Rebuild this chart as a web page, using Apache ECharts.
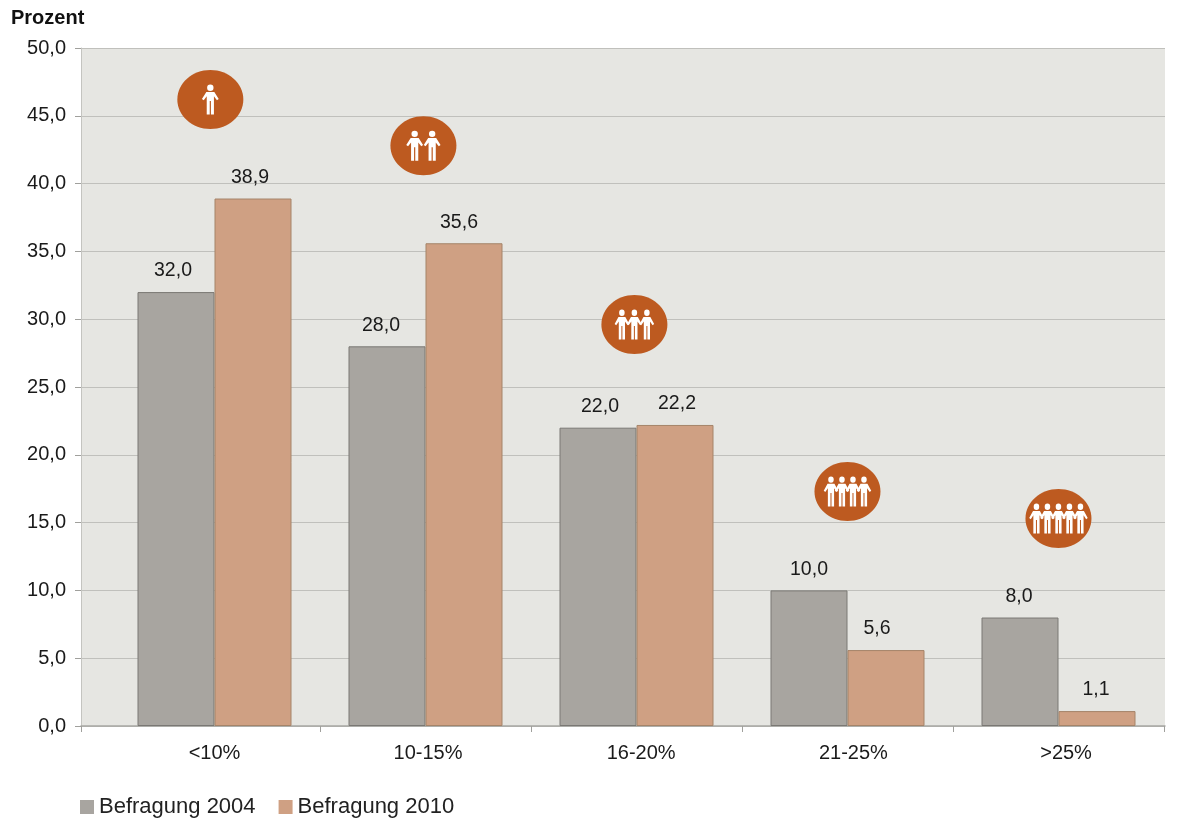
<!DOCTYPE html>
<html><head><meta charset="utf-8">
<style>html,body{margin:0;padding:0;background:#fff}#c{width:1182px;height:820px}</style>
<script src="https://cdn.jsdelivr.net/npm/echarts@6/dist/echarts.min.js"></script>
</head><body><div id="c"></div>
<script>
const categories = ['<10%','10-15%','16-20%','21-25%','>25%'];
const befragung2004 = [32.0,28.0,22.0,10.0,8.0];
const befragung2010 = [38.9,35.6,22.2,5.6,1.1];
const iconX = [-0.02,0.99,1.99,3.0,4.0];
const iconY = [46.2,42.8,29.6,17.3,15.3];
const iconPeople = [1,2,3,4,5];
const tickPositions = [-0.633,0.5,1.5,2.5,3.5,4.5];
const labelPositions = [0.0,1.012,2.022,3.028,4.036];
const labelShift2004 = [-3,-6,2,0,-1];
const labelShift2010 = [-3,-5,2,-9,-1];

const FONT = '"Liberation Sans", Arial, sans-serif';
const fmt = v => v.toFixed(1).replace('.', ',');
const PERSON = 'M0,-15a3.2,3.2 0 1,1 -0.01,0z M-4,-7.6 L4,-7.6 L8.4,-0.6 L6.6,0.6 L3.6,-3.2 L3.6,15 L0.6,15 L0.6,1.5 L-0.6,1.5 L-0.6,15 L-3.6,15 L-3.6,-3.2 L-6.6,0.6 L-8.4,-0.6 Z';

function renderIcon(params, api){
  const c = api.coord([api.value(0), api.value(1)]);
  const n = api.value(2);
  const step = n === 2 ? 17.5 : n === 3 ? 12.5 : 11;
  const w = n >= 3 ? 14.5 : 16.8;
  const kids = [{type:'ellipse',shape:{cx:c[0],cy:c[1],rx:33,ry:29.5},style:{fill:'#bd5a20'}}];
  for(let i=0;i<n;i++){
    kids.push({type:'path',
      shape:{pathData:PERSON,layout:'cover',x:c[0]+(i-(n-1)/2)*step-w/2,y:c[1]-15,width:w,height:30},
      style:{fill:'#ffffff'}});
  }
  return {type:'group',children:kids};
}
function barData(vals, shifts){
  return vals.map((v,i)=>({value:v,label:{offset:[shifts[i],0]}}));
}

const chart = echarts.init(document.getElementById('c'),null,{renderer:'canvas'});
const labelOf = {show:true,position:'top',distance:11,color:'#1a1a1a',fontFamily:FONT,fontSize:19.5,formatter:p=>fmt(p.value)};
chart.setOption({
  animation:false,
  backgroundColor:'#ffffff',
  textStyle:{fontFamily:FONT},
  title:{text:'Prozent',left:6,top:3,textStyle:{fontFamily:FONT,fontSize:20,fontWeight:'bold',color:'#111'}},
  legend:{left:75,top:791,itemWidth:14,itemHeight:14,itemGap:23,icon:'rect',
    data:[{name:'Befragung 2004',itemStyle:{borderWidth:0}},{name:'Befragung 2010',itemStyle:{borderWidth:0}}],
    textStyle:{fontFamily:FONT,fontSize:22,color:'#222',padding:[0,0,0,0]}},
  grid:[
    {left:81,right:17,top:48,height:678,show:true,backgroundColor:'#e6e6e2',borderWidth:0,z:0},
    {left:109,width:1055,top:48,height:678,show:false}
  ],
  xAxis:[
    {gridIndex:0,type:'value',min:-0.633,max:4.505,
      axisLine:{show:true,onZero:false,lineStyle:{color:'#a8a8a4',width:1.5}},
      axisTick:{show:true,length:6,lineStyle:{color:'#a0a09c'},customValues:tickPositions},
      axisLabel:{show:true,customValues:labelPositions,color:'#1a1a1a',fontFamily:FONT,fontSize:20,margin:17,
        hideOverlap:false,showMinLabel:true,showMaxLabel:true,
        formatter:v=>categories[Math.round(v)]},
      splitLine:{show:false}},
    {gridIndex:1,type:'category',data:categories,
      axisLine:{show:false},axisTick:{show:false},axisLabel:{show:false}}
  ],
  yAxis:[
    {gridIndex:0,type:'value',min:0,max:50,interval:5,
      axisLine:{show:true,onZero:false,lineStyle:{color:'#c4c4c0',width:1}},
      axisTick:{show:true,length:6,lineStyle:{color:'#a0a09c'}},
      axisLabel:{color:'#1a1a1a',fontFamily:FONT,fontSize:20,margin:15,formatter:v=>fmt(v)},
      splitLine:{show:true,lineStyle:{color:'#c0c0bc',width:1.2}}},
    {gridIndex:1,type:'value',min:0,max:50,show:false}
  ],
  series:[
    {name:'Befragung 2004',type:'bar',xAxisIndex:1,yAxisIndex:1,data:barData(befragung2004,labelShift2004),barWidth:77,barGap:0,z:3,
      itemStyle:{color:'#a8a5a0',borderColor:'#7a7874',borderWidth:1},label:labelOf},
    {name:'Befragung 2010',type:'bar',xAxisIndex:1,yAxisIndex:1,data:barData(befragung2010,labelShift2010),barWidth:77,barGap:0,z:3,
      itemStyle:{color:'#cfa083',borderColor:'#a58469',borderWidth:1},label:labelOf},
    {type:'custom',xAxisIndex:0,yAxisIndex:0,z:5,renderItem:renderIcon,silent:true,
      data:iconX.map((x,i)=>[x,iconY[i],iconPeople[i]]),encode:{x:0,y:1}}
  ]
});
</script></body></html>
